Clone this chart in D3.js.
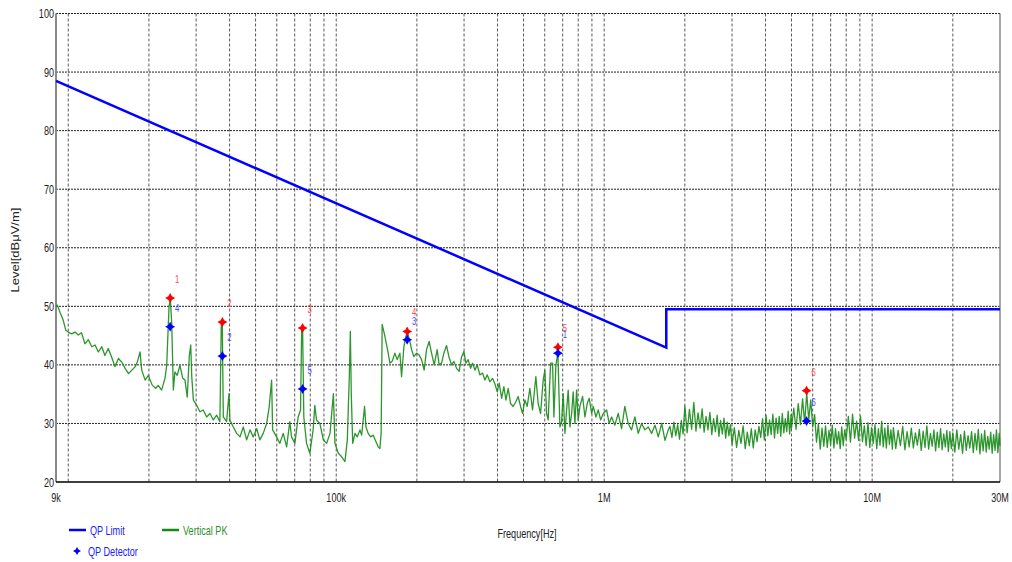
<!DOCTYPE html>
<html>
<head>
<meta charset="utf-8">
<script src="https://cdn.jsdelivr.net/npm/d3@7"></script>
<style>
  html, body { margin: 0; padding: 0; background: #fff; }
  svg { display: block; }
  text { font-family: "Liberation Sans", Arial, sans-serif; }
</style>
</head>
<body>
<svg id="chart" width="1012" height="562"></svg>
<script>
// ---------- DATA ----------
const yTicks = [20, 30, 40, 50, 60, 70, 80, 90, 100];
const xTickFreqKHz = [9, 100, 1000, 10000, 30000];
const xTickLabels = ["9k", "100k", "1M", "10M", "30M"];
const gridFreqKHz = [10,20,30,40,50,60,70,80,90,100,200,300,400,500,600,700,800,900,1000,
  2000,3000,4000,5000,6000,7000,8000,9000,10000,20000];

// QP limit line
const limitFreqKHz = [9, 1705, 1705, 30000];
const limitLevel = [88.5, 42.95, 49.5, 49.5];

// Peak (red) markers
const pkFreqKHz = [24.0, 37.6, 74.9, 184, 672, 5690];
const pkLevel = [51.4, 47.3, 46.3, 45.7, 43.0, 35.6];
const pkLabels = ["1", "2", "3", "4", "5", "6"];

// QP detector (blue) markers
const qpFreqKHz = [24.0, 37.6, 74.9, 184, 672, 5690];
const qpLevel = [46.5, 41.5, 35.9, 44.3, 42.0, 30.4];
const qpLabels = ["4", "2", "5", "3", "1", "6"];

// Vertical PK trace (kHz, dBuV/m)
const traceFreqKHz = [
  9.0, 9.10, 9.31, 9.58, 9.79, 10.0, 10.29, 10.6, 10.9, 11.2, 11.54, 11.88, 12.24, 12.59, 12.95,
  13.34, 13.7, 14.1, 14.5, 14.94, 15.38, 15.83, 16.3, 16.78, 17.28, 17.78, 18.1, 18.53, 18.8, 19.36,
  19.9, 20.6, 21.2, 21.67, 22.3, 22.96, 23.3, 23.77, 24.04, 24.33, 24.67, 25.0, 25.5, 26.1, 26.75,
  27.26, 27.8, 28.3, 28.64, 28.9, 29.3, 30.14, 31.0, 31.9, 32.85, 33.8, 34.76, 35.8, 36.8, 37.24,
  37.56, 37.9, 38.98, 39.8, 40.1, 41.3, 42.5, 43.76, 45.0, 46.3, 47.7, 49.0, 50.5, 51.9, 53.4,
  55.0, 56.2, 57.4, 57.9, 59.9, 61.6, 63.4, 65.3, 67.1, 68.1, 70.1, 72.1, 73.6, 74.3, 74.9,
  75.7, 77.5, 79.7, 82.0, 83.2, 84.4, 86.9, 89.5, 92.1, 94.8, 97.6, 98.9, 101.8, 104.8, 107.8, 110.0,
  111.9, 112.9, 113.8, 115.2, 117.5, 119.8, 122.6, 124.4, 126.1, 127.6, 129.1, 131.6, 134.4, 137.4,
  140.6, 143.4, 145.5, 147.1, 148.4, 151.9, 156.3, 158.6, 161.7, 165.5, 168.8, 172.8, 175.3, 178.9,
  182.0, 184.6, 188.3, 191.1, 194.9, 199.4, 203.9, 208.2, 212.9, 217.3, 222.2, 226.9, 232.0, 238.1,
  242.2, 247.3, 252.2, 258.1, 263.3, 269.5, 274.9, 281.3, 287.6, 293.7, 299.5, 304.7, 310.7, 317.3,
  322.8, 329.2, 335.8, 343.6, 351.7, 358.7, 365.9, 374.5, 383.3, 392.0, 398.8, 405.7, 414.2, 422.4,
  429.7, 438.3, 447.3, 457.4, 468.2, 477.5, 487.5, 496.0, 505.9, 516.0, 528.1, 540.4, 555.9, 567.0,
  578.9, 592.0, 600.7, 609.6, 618.0, 630.9, 641.9, 649.1, 660.4, 671.8, 683.5, 693.5, 703.2, 713.6,
  724.0, 734.1, 744.9, 755.9, 766.2, 777.6, 789.0, 800.0, 811.7, 830.8, 847.4, 864.4, 879.3, 897.8,
  910.2, 931.5, 950.1, 970.0, 991.9, 1021, 1044, 1066, 1096, 1128, 1161, 1194, 1229, 1265, 1302,
  1340, 1379, 1419, 1460, 1503, 1547, 1592, 1639, 1686, 1735,
  1760, 1790, 1820, 1850, 1880, 1910, 1940, 1970,
  2000, 2040, 2080, 2120, 2160, 2200, 2240, 2280, 2320, 2360, 2400, 2440, 2480, 2520, 2560, 2600,
  2640, 2680, 2720, 2760, 2800, 2840, 2880, 2920, 2960,
  3000, 3060, 3120, 3180, 3240, 3300, 3360, 3420, 3480, 3540, 3600, 3660, 3720, 3780, 3840, 3900,
  3960, 4020, 4080, 4140, 4200, 4260, 4320, 4380, 4440, 4500, 4560, 4620, 4680, 4740, 4800, 4860,
  4920, 4980,
  5000, 5100, 5200, 5300, 5400, 5500, 5600, 5700, 5800, 5900, 6000, 6100, 6200, 6300, 6400, 6500,
  6600, 6700, 6800, 6900, 7000, 7100, 7200, 7300, 7400, 7500, 7600, 7700, 7800, 7900,
  8000, 8150, 8300, 8450, 8600, 8750, 8900, 9050, 9200, 9350, 9500, 9650, 9800, 9950, 10100, 10250,
  10400, 10550, 10700, 10850, 11000, 11150, 11300, 11450, 11600, 11750, 11900,
  12000, 12250, 12500, 12750, 13000, 13250, 13500, 13750, 14000, 14250, 14500, 14750, 15000, 15250,
  15500, 15750, 16000, 16250, 16500, 16750, 17000, 17250, 17500, 17750, 18000, 18250, 18500, 18750,
  19000, 19250, 19500, 19750,
  20000, 20350, 20700, 21050, 21400, 21750, 22100, 22450, 22800, 23150, 23500, 23850, 24200, 24550,
  24900, 25250, 25600, 25950, 26300, 26650, 27000, 27350, 27700, 28050, 28400, 28750, 29100, 29450,
  29800, 30000
];
const traceLevel = [
  49.9, 50.2, 49.0, 47.6, 45.9, 45.6, 45.3, 45.6, 45.1, 45.5, 43.6, 44.3, 43.1, 43.4, 42.2,
  43.1, 41.6, 42.8, 41.4, 39.7, 41.1, 40.5, 39.4, 38.5, 39.1, 39.7, 40.5, 42.2, 39.1, 37.4,
  38.2, 36.5, 36.0, 36.5, 35.7, 37.7, 39.9, 49.9, 51.3, 47.0, 35.7, 38.8, 38.2, 39.9, 37.7,
  37.4, 34.5, 41.6, 43.4, 38.0, 34.0, 33.1, 32.0, 32.3, 31.1, 31.7, 30.6, 31.4, 30.3, 47.0,
  47.3, 31.1, 30.3, 35.1, 30.6, 29.4, 28.3, 27.7, 29.4, 27.2, 28.9, 27.7, 29.1, 27.2, 28.3,
  30.0, 32.8, 37.4, 28.9, 27.7, 26.6, 28.3, 26.0, 30.3, 27.7, 26.6, 31.1, 32.3, 45.9, 46.4,
  31.1, 26.6, 24.9, 28.9, 33.1, 30.6, 30.0, 27.2, 26.6, 28.3, 35.1, 26.6, 24.9, 24.3, 23.5, 27.2,
  38.0, 45.7, 35.1, 26.6, 28.3, 27.7, 28.9, 28.0, 30.6, 32.9, 29.4, 28.3, 27.7, 28.0,
  26.9, 26.0, 25.7, 28.3, 46.9, 44.9, 42.0, 40.3, 40.6, 42.0, 40.9, 42.0, 38.0, 43.1,
  44.9, 45.5, 44.0, 42.6, 41.4, 42.0, 41.7, 40.9, 39.1, 42.6, 44.0, 42.0, 40.0, 42.6,
  40.0, 40.3, 42.0, 43.3, 41.4, 40.0, 40.6, 39.4, 38.9, 41.4, 42.3, 40.3, 40.9, 39.4,
  40.3, 39.1, 40.0, 38.3, 38.6, 37.4, 38.3, 37.1, 37.7, 36.6, 35.4, 36.9, 34.3, 36.3,
  34.0, 36.0, 33.4, 32.9, 33.7, 34.6, 32.9, 31.7, 34.0, 32.9, 36.0, 32.3, 38.0, 33.4,
  31.7, 37.4, 39.1, 31.7, 30.6, 40.3, 40.3, 31.1, 40.0, 42.0, 29.4, 30.3, 35.1, 28.3,
  32.3, 35.7, 29.4, 31.7, 35.4, 30.0, 35.7, 30.6, 32.9, 34.6, 31.1, 33.4, 34.3, 31.7,
  32.9, 31.1, 32.3, 30.6, 31.7, 32.3, 30.0, 31.1, 29.7, 31.7, 29.1, 32.9, 30.0, 28.9, 31.1,
  28.3, 30.0, 28.9, 29.4, 28.3, 29.7, 27.7, 30.0, 27.1, 28.9,
  29.5, 27.6, 30.2, 27.9, 29.8, 27.3, 30.5, 28.2,
  33.0, 28.4, 32.4, 29.0, 33.6, 28.7, 31.8, 29.2, 32.5, 28.5, 31.2, 28.9, 31.9, 28.1, 30.8, 28.6,
  31.4, 27.8, 30.5, 28.2, 30.9, 27.5, 30.2, 27.9, 29.8,
  26.4, 29.3, 25.9, 28.8, 26.6, 29.6, 25.7, 28.5, 26.2, 29.1, 25.8, 28.9, 26.9, 29.5, 27.6, 30.8,
  27.2, 31.4, 27.9, 30.6, 28.1, 31.6, 27.5, 30.9, 28.3, 31.2, 27.8, 31.7, 28.4, 30.8, 28.6, 32.1,
  28.2, 31.5,
  29.2, 32.6, 29.0, 33.4, 29.8, 34.2, 30.1, 35.2, 30.6, 34.0, 29.4, 31.5, 26.8, 29.9, 25.6, 29.2,
  26.1, 29.6, 25.9, 28.8, 26.4, 29.7, 25.8, 29.1, 26.5, 28.6, 25.7, 29.4, 26.2, 28.9,
  27.3, 31.2, 26.8, 31.6, 27.5, 30.4, 27.1, 31.3, 26.9, 29.6, 26.2, 30.1, 25.9, 29.3, 26.6, 29.8,
  25.7, 29.1, 26.3, 30.4, 26.0, 29.2, 25.8, 29.7, 26.4, 28.9, 25.6,
  29.3, 25.7, 28.8, 26.2, 29.5, 25.5, 28.6, 26.0, 29.2, 25.8, 28.4, 26.3, 29.0, 25.4,
  28.7, 25.9, 29.6, 25.6, 28.3, 26.1, 28.9, 25.3, 28.5, 25.9, 29.1, 25.5, 28.2, 26.0,
  28.8, 25.2, 28.6, 25.7,
  28.4, 25.1, 28.9, 25.6, 28.1, 24.9, 28.7, 25.4, 27.9, 25.8, 28.6, 25.0, 28.3, 25.5,
  29.0, 24.8, 28.2, 25.3, 28.8, 25.1, 27.8, 25.6, 28.5, 24.9, 28.1, 25.4, 28.9, 25.0,
  28.3, 26.2
];

// ---------- CHART ----------
const svg = d3.select("#chart");
const pLeft = 56, pRight = 1000, pTop = 13.5, pBottom = 482;
const x = d3.scaleLog().domain([9, 30000]).range([pLeft, pRight]);
const y = d3.scaleLinear().domain([20, 100]).range([pBottom, pTop]);
const SX = 0.7; // horizontal condensing of the original's text

function addText(g, tx, ty, str, size, fill, anchor, extra) {
  return g.append("text")
    .attr("transform", `translate(${tx},${ty}) ${extra || ""} scale(${SX},1)`)
    .attr("text-anchor", anchor || "start")
    .attr("font-size", size).attr("fill", fill).text(str);
}

// vertical grid
svg.append("g").selectAll("line").data(gridFreqKHz).join("line")
  .attr("x1", d => x(d)).attr("x2", d => x(d))
  .attr("y1", pTop).attr("y2", pBottom)
  .attr("stroke", "#5a5a5a").attr("stroke-width", 1).attr("stroke-dasharray", "3,2");

// horizontal grid
svg.append("g").selectAll("line").data(yTicks.filter(d => d > 20)).join("line")
  .attr("x1", pLeft).attr("x2", pRight)
  .attr("y1", d => y(d)).attr("y2", d => y(d))
  .attr("stroke", "#222").attr("stroke-width", 1).attr("stroke-dasharray", "2,1");

// axes frame
svg.append("line").attr("x1", pLeft).attr("x2", pLeft).attr("y1", pTop).attr("y2", pBottom)
  .attr("stroke", "#8a8a8a").attr("stroke-width", 2);
svg.append("line").attr("x1", pRight).attr("x2", pRight).attr("y1", pTop).attr("y2", pBottom)
  .attr("stroke", "#8a8a8a").attr("stroke-width", 1.5);
svg.append("line").attr("x1", pLeft).attr("x2", pRight).attr("y1", pBottom).attr("y2", pBottom)
  .attr("stroke", "#000").attr("stroke-width", 1.5);

// y tick labels
const gy = svg.append("g");
yTicks.forEach(d => addText(gy, pLeft - 2, y(d) + 4.6, d, 13, "#222", "end"));

// x tick labels
const gx = svg.append("g");
xTickFreqKHz.forEach((d, i) => addText(gx, x(d), 502, xTickLabels[i], 13, "#222", "middle"));

// axis titles
addText(svg, 527, 538, "Frequency[Hz]", 13, "#222", "middle");
svg.append("text")
  .attr("transform", "translate(19,250) scale(0.8,1) rotate(-90)")
  .attr("text-anchor", "middle").attr("font-size", 13).attr("fill", "#222")
  .text("Level[dBμV/m]");

// trace
const traceData = traceFreqKHz.map((f, i) => [f, traceLevel[i]]);
const line = d3.line().x(d => x(d[0])).y(d => y(d[1]));
svg.append("path").datum(traceData)
  .attr("d", line).attr("fill", "none")
  .attr("stroke", "#168a16").attr("stroke-width", 1.3).attr("stroke-opacity", 0.9)
  .attr("stroke-linejoin", "round");

// limit line
const limitData = limitFreqKHz.map((f, i) => [f, limitLevel[i]]);
svg.append("path").datum(limitData)
  .attr("d", line).attr("fill", "none")
  .attr("stroke", "#0000ff").attr("stroke-width", 2.5);

// markers
const star = "M0,-5 L1.8,-1.8 L5,0 L1.8,1.8 L0,5 L-1.8,1.8 L-5,0 L-1.8,-1.8 Z";
function drawMarkers(freqs, levels, labels, color, labelColor) {
  const g = svg.append("g");
  g.selectAll("path").data(freqs).join("path")
    .attr("d", star)
    .attr("transform", (d, i) => `translate(${x(d)},${y(levels[i])})`)
    .attr("fill", color);
  const gt = g.append("g");
  freqs.forEach((d, i) => addText(gt, x(d) + 7, y(levels[i]) - 15, labels[i], 11, labelColor, "middle"));
}
drawMarkers(pkFreqKHz, pkLevel, pkLabels, "#ff0000", "#ff4a4a");
drawMarkers(qpFreqKHz, qpLevel, qpLabels, "#0000ff", "#4a4aff");

// legend
const lg = svg.append("g");
lg.append("line").attr("x1", 69).attr("x2", 86).attr("y1", 530).attr("y2", 530)
  .attr("stroke", "#0000ff").attr("stroke-width", 2.5);
addText(lg, 90, 534.5, "QP Limit", 13, "#2020ff");
lg.append("line").attr("x1", 162).attr("x2", 179).attr("y1", 530).attr("y2", 530)
  .attr("stroke", "#168a16").attr("stroke-width", 2.5);
addText(lg, 183, 534.5, "Vertical PK", 13, "#2a8f2a");
lg.append("path").attr("d", star).attr("transform", "translate(77,551) scale(0.8)").attr("fill", "#0000ff");
addText(lg, 88, 555.5, "QP Detector", 13, "#2020ff");
</script>
</body>
</html>
